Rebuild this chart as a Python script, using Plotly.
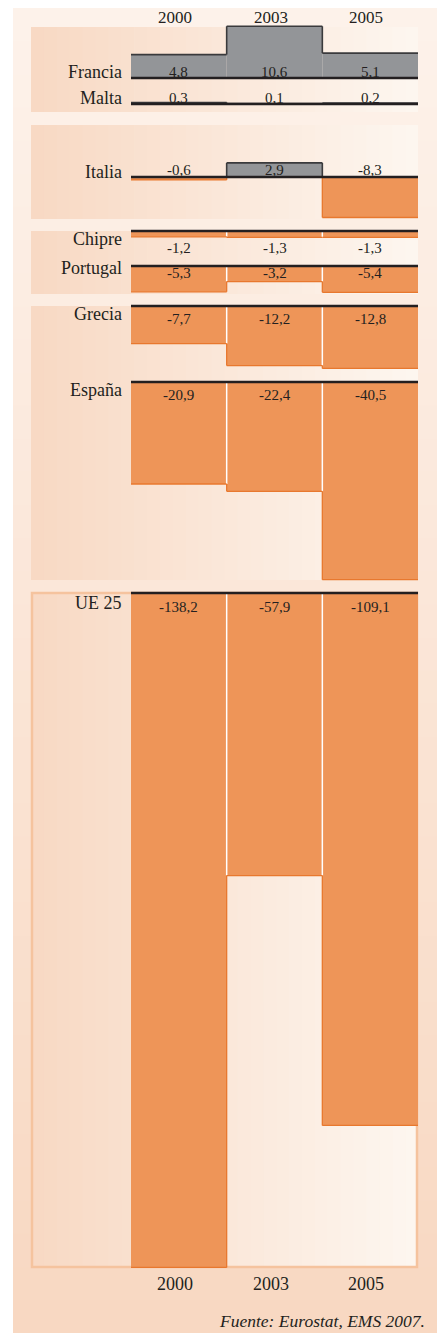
import plotly.graph_objects as go

# ---------------- data ----------------
years = ["2000", "2003", "2005"]
countries = ["Francia", "Malta", "Italia", "Chipre", "Portugal", "Grecia", "España", "UE 25"]
francia = [4.8, 10.6, 5.1]
malta = [0.3, 0.1, 0.2]
italia = [-0.6, 2.9, -8.3]
chipre = [-1.2, -1.3, -1.3]
portugal = [-5.3, -3.2, -5.4]
grecia = [-7.7, -12.2, -12.8]
espana = [-20.9, -22.4, -40.5]
ue25 = [-138.2, -57.9, -109.1]
series = [francia, malta, italia, chipre, portugal, grecia, espana, ue25]
source = "Fuente: Eurostat, EMS 2007."

# ---------------- layout constants (page pixels) ----------------
OFF = 8                     # browser body margin
W, H = 445 - OFF, 1333 - OFF
S = 4.88  # pixels per unit
baseline_px = [78, 104, 177, 231, 266, 306, 382, 593]
name_px = [72, 98, 172, 239, 268, 314, 390, 603]
label_off = [-6, -6, -7, 17, 7, 13, 12.5, 14]   # value label centre relative to baseline (px, down +)
panels = [(27, 112), (125, 219), (231, 294), (306, 580), (592, 1268)]
PX0, PX1 = 31, 418     # panel x extents
BX0, BX1 = 131, 418    # bar area

GRAY = "#939598"
ORANGE = "#EE9558"
ORANGE_LINE = "#E8782E"
DARK = "#231F20"
FONT = "Liberation Serif"


def hx(c):
    c = c.lstrip("#")
    return [int(c[i:i + 2], 16) for i in (0, 2, 4)]


def mix(c1, c2, t):
    a, b = hx(c1), hx(c2)
    return "rgb(%d,%d,%d)" % tuple(round(a[i] + (b[i] - a[i]) * t) for i in range(3))


def px_x(x):
    return (x - OFF) / W


def px_y(y):
    return 1 - (y - OFF) / H


shapes = []
# outer peach background with vertical gradient
N = 40
for i in range(N):
    y0 = OFF + H * i / N
    y1 = min(OFF + H * (i + 1) / N + 1, OFF + H)
    shapes.append(dict(type="rect", xref="paper", yref="paper", x0=px_x(13), x1=1,
                       y0=px_y(y1), y1=px_y(y0), line_width=0,
                       fillcolor=mix("#FDF2EA", "#F8D8C2", i / (N - 1)), layer="below"))
# panels with horizontal gradient
NS = 30
for (t, b) in panels:
    w = (PX1 - PX0) / NS
    for i in range(NS):
        shapes.append(dict(type="rect", xref="paper", yref="paper",
                           x0=px_x(PX0 + i * w), x1=px_x(min(PX0 + (i + 1) * w + 0.6, PX1)),
                           y0=px_y(b), y1=px_y(t), line_width=0,
                           fillcolor=mix("#F8D9C4", "#FDF6EF", i / (NS - 1)), layer="below"))
# UE 25 panel border
t, b = panels[-1]
shapes.append(dict(type="rect", xref="paper", yref="paper", x0=px_x(PX0 + 1), x1=px_x(PX1 - 1),
                   y0=px_y(b - 1), y1=px_y(t + 1), line=dict(color="#F5C39E", width=2.5),
                   fillcolor="rgba(0,0,0,0)", layer="below"))

fig = go.Figure()
annotations = []

for k, vals in enumerate(series):
    yname = "y" if k == 0 else "y%d" % (k + 1)
    colors = [GRAY if v > 0 else ORANGE for v in vals]
    fig.add_trace(go.Bar(x=[0, 1, 2], y=vals, width=1, marker=dict(color=colors, line_width=0),
                         xaxis="x", yaxis=yname, hoverinfo="skip", showlegend=False))
    # edges derived from values
    dark_x, dark_y, or_x, or_y, wh_x, wh_y = [], [], [], [], [], []

    def seg(xs, ys, x0, y0, x1, y1):
        xs += [x0, x1, None]
        ys += [y0, y1, None]

    for i, v in enumerate(vals):
        if v > 0:
            seg(dark_x, dark_y, i - 0.5, v, i + 0.5, v)
        else:
            seg(or_x, or_y, i - 0.5, v, i + 0.5, v)
    for i in range(len(vals) - 1):
        a, b2 = vals[i], vals[i + 1]
        xm = i + 0.5
        if a >= 0 and b2 >= 0:
            seg(dark_x, dark_y, xm, min(a, b2), xm, max(a, b2))
        elif a <= 0 and b2 <= 0:
            seg(wh_x, wh_y, xm, 0, xm, max(a, b2))
            seg(or_x, or_y, xm, max(a, b2), xm, min(a, b2))
        else:
            seg(dark_x, dark_y, xm, 0, xm, max(a, b2))
            seg(or_x, or_y, xm, 0, xm, min(a, b2))
    if wh_x:
        fig.add_trace(go.Scatter(x=wh_x, y=wh_y, mode="lines", line=dict(color="white", width=1.5),
                                 xaxis="x", yaxis=yname, hoverinfo="skip", showlegend=False))
    if or_x:
        fig.add_trace(go.Scatter(x=or_x, y=or_y, mode="lines", line=dict(color=ORANGE_LINE, width=1.3),
                                 xaxis="x", yaxis=yname, hoverinfo="skip", showlegend=False))
    if dark_x:
        fig.add_trace(go.Scatter(x=dark_x, y=dark_y, mode="lines", line=dict(color="#3A3A3C", width=1.6),
                                 xaxis="x", yaxis=yname, hoverinfo="skip", showlegend=False))
    # baseline
    fig.add_trace(go.Scatter(x=[-0.5, 2.5], y=[0, 0], mode="lines", line=dict(color=DARK, width=2.6),
                             xaxis="x", yaxis=yname, hoverinfo="skip", showlegend=False))
    # value labels
    for i, v in enumerate(vals):
        annotations.append(dict(x=i, y=0, xref="x", yref=yname, text=("%.1f" % v).replace(".", ","),
                                showarrow=False, yanchor="middle", xanchor="center",
                                yshift=-label_off[k], borderpad=0, borderwidth=0,
                                font=dict(family=FONT, size=15, color=DARK)))
    # country name
    annotations.append(dict(x=px_x(122), y=px_y(name_px[k]), xref="paper", yref="paper",
                            text=countries[k], showarrow=False, xanchor="right", yanchor="middle",
                            borderpad=0, borderwidth=0, font=dict(family=FONT, size=18, color=DARK)))

# year labels top and bottom
for i, yr in enumerate(years):
    for ypx, fs in ((17.5, 17), (1284, 18)):
        annotations.append(dict(x=i, y=px_y(ypx), xref="x", yref="paper", text=yr, showarrow=False,
                                xanchor="center", yanchor="middle", xshift=-4, borderpad=0, borderwidth=0,
                                font=dict(family=FONT, size=fs, color=DARK)))
annotations.append(dict(x=px_x(425), y=px_y(1321), xref="paper", yref="paper", text="<i>%s</i>" % source,
                        showarrow=False, xanchor="right", yanchor="middle", borderpad=0, borderwidth=0,
                        font=dict(family=FONT, size=17.5, color=DARK)))

layout = dict(width=W, height=H, margin=dict(l=0, r=0, t=0, b=0, pad=0), autosize=False,
              paper_bgcolor="white", plot_bgcolor="rgba(0,0,0,0)", barmode="overlay",
              showlegend=False, shapes=shapes, annotations=annotations,
              xaxis=dict(domain=[px_x(BX0), px_x(BX1)], range=[-0.5, 2.5], visible=False, fixedrange=True))
for k, b in enumerate(baseline_px):
    key = "yaxis" if k == 0 else "yaxis%d" % (k + 1)
    bf = b - OFF
    ax = dict(domain=[0, 1], range=[(bf - H) / S, bf / S], visible=False, fixedrange=True, anchor="x")
    if k > 0:
        ax["overlaying"] = "y"
    layout[key] = ax
fig.update_layout(**layout)
fig.write_html("out.html")
